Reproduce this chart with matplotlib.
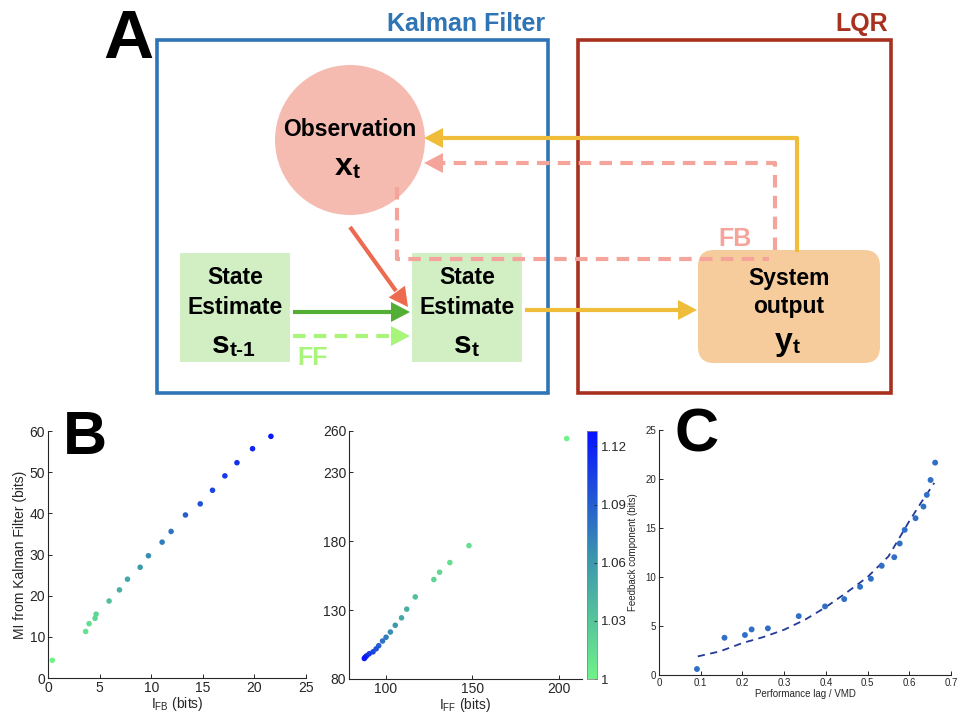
import numpy as np
import matplotlib
matplotlib.use('Agg')
import matplotlib.pyplot as plt
from matplotlib.patches import Rectangle, Circle, FancyBboxPatch, Polygon
from matplotlib.colors import LinearSegmentedColormap, Normalize
from matplotlib.colorbar import ColorbarBase

plt.rcParams['font.family'] = ['Liberation Sans', 'DejaVu Sans']
plt.rcParams['mathtext.fontset'] = 'custom'
plt.rcParams['mathtext.rm'] = 'Liberation Sans'
plt.rcParams['mathtext.it'] = 'Liberation Sans:italic'
plt.rcParams['mathtext.bf'] = 'Liberation Sans:bold'

# ---------------- data ----------------
# Panel B (left): feedback information vs MI from Kalman filter
i_fb = [0.42, 3.65, 3.98, 4.56, 4.66, 5.92, 6.92, 7.70, 8.93, 9.73, 11.06,
        11.93, 13.32, 14.75, 15.94, 17.14, 18.31, 19.82, 21.60]
mi_fb = [4.3, 11.3, 13.2, 14.5, 15.5, 18.7, 21.4, 24.0, 26.9, 29.7, 33.0,
         35.6, 39.6, 42.3, 45.6, 49.1, 52.3, 55.7, 58.7]
# Panel B (middle): feedforward information
i_ff = [204.2, 148.0, 137.0, 131.1, 127.8, 117.1, 112.2, 109.2, 105.6, 102.8,
        100.3, 98.3, 96.1, 94.6, 92.8, 90.6, 89.1, 88.3, 87.8]
mi_ff = [254.5, 176.8, 164.5, 157.5, 152.2, 139.6, 130.7, 124.4, 119.0, 114.1,
         110.3, 107.6, 104.2, 101.9, 99.7, 98.3, 96.8, 95.8, 94.9]
# colour value (colorbar) for each condition
fb_ratio = [1.000, 1.012, 1.014, 1.018, 1.020, 1.035, 1.044, 1.050, 1.060,
            1.066, 1.075, 1.080, 1.090, 1.096, 1.102, 1.107, 1.112, 1.118, 1.125]
cbar_ticks = [1, 1.03, 1.06, 1.09, 1.12]
cbar_ticklabels = ['1', '1.03', '1.06', '1.09', '1.12']
# Panel C
perf_lag = [0.091, 0.157, 0.206, 0.222, 0.261, 0.335, 0.398, 0.444, 0.482,
            0.508, 0.534, 0.564, 0.577, 0.589, 0.615, 0.634, 0.642, 0.651, 0.662]
fb_comp = [0.61, 3.80, 4.08, 4.65, 4.76, 6.01, 7.00, 7.74, 9.00, 9.82, 11.14,
           12.02, 13.42, 14.81, 16.0, 17.19, 18.38, 19.9, 21.67]
fit_x = [0.093, 0.146, 0.2, 0.25, 0.3, 0.35, 0.4, 0.45, 0.5, 0.55, 0.6, 0.63, 0.66]
fit_y = [1.90, 2.41, 3.26, 3.87, 4.62, 5.64, 6.93, 8.42, 10.0, 12.1, 15.7, 17.7, 19.6]

# ---------------- figure ----------------
W, H = 961, 717
fig = plt.figure(figsize=(W / 100, H / 100), dpi=100)

# Diagram (panel A) in pixel coordinates
ax0 = fig.add_axes([0, 0, 1, 1], zorder=-1)
ax0.set_xlim(0, W)
ax0.set_ylim(H, 0)
ax0.axis('off')

blue = '#2f74b5'
dred = '#a8301e'
yellow = '#f0bd3a'
pink = '#f4a49a'
green = '#52ae35'
lgreen = '#a8f57a'
salmon = '#ec6a50'
NODE_FS = 16.5


def head(x, y, dx, dy, color, L=19, Wd=20, z=5):
    n = np.hypot(dx, dy)
    ux, uy = dx / n, dy / n
    px, py = -uy, ux
    bx, by = x - ux * L, y - uy * L
    pts = [(x, y), (bx + px * Wd / 2, by + py * Wd / 2), (bx - px * Wd / 2, by - py * Wd / 2)]
    ax0.add_patch(Polygon(pts, closed=True, fc=color, ec='none', zorder=z))


def subtext(x, y, main, sub, size=23, subsize=15):
    ax0.text(x, y, main, ha='right', va='baseline', fontsize=size, fontweight='bold', zorder=6)
    ax0.text(x, y + 3, sub, ha='left', va='baseline', fontsize=subsize, fontweight='bold', zorder=6)


# boxes
ax0.add_patch(Rectangle((157, 40), 391, 353, fill=False, ec=blue, lw=2.6, zorder=2))
ax0.add_patch(Rectangle((578, 40), 313, 353, fill=False, ec=dred, lw=2.6, zorder=2))
ax0.text(545, 24, 'Kalman Filter', ha='right', va='center', fontsize=18,
         fontweight='bold', color=blue)
ax0.text(888, 24, 'LQR', ha='right', va='center', fontsize=18,
         fontweight='bold', color=dred)
fig.text(128 / W, 1 - 40 / H, 'A', ha='center', va='center', fontsize=50, fontweight='bold')

# nodes
ax0.add_patch(Circle((350, 140), 75, fc='#f5bbb0', ec='none', zorder=1))
ax0.add_patch(Rectangle((180, 253), 110, 109, fc='#d2efc4', ec='none', zorder=1))
ax0.add_patch(Rectangle((412, 253), 110, 109, fc='#d2efc4', ec='none', zorder=1))
ax0.add_patch(FancyBboxPatch((698, 250), 182, 113,
                             boxstyle='round,pad=0,rounding_size=16',
                             fc='#f7cc9c', ec='none', zorder=1))

ax0.text(350, 129, 'Observation', ha='center', va='center', fontsize=NODE_FS, fontweight='bold', zorder=6)
subtext(353, 175, 'x', 't')
for cx in [235, 467]:
    ax0.text(cx, 278, 'State', ha='center', va='center', fontsize=NODE_FS, fontweight='bold', zorder=6)
    ax0.text(cx, 307, 'Estimate', ha='center', va='center', fontsize=NODE_FS, fontweight='bold', zorder=6)
subtext(230, 353, 's', 't-1')
subtext(472, 353, 's', 't')
ax0.text(789, 279, 'System', ha='center', va='center', fontsize=NODE_FS, fontweight='bold', zorder=6)
ax0.text(789, 307, 'output', ha='center', va='center', fontsize=NODE_FS, fontweight='bold', zorder=6)
subtext(793, 350, 'y', 't')

# arrows
lw = 3.0
# observation -> state estimate
ax0.plot([350, 396], [227, 291], color=salmon, lw=lw, solid_capstyle='butt', zorder=4)
head(408, 307, 58, 80, salmon)
# state t-1 -> state t (solid)
ax0.plot([293, 392], [312, 312], color=green, lw=lw, solid_capstyle='butt', zorder=4)
head(410, 312, 1, 0, green)
# FF dashed
ax0.plot([293, 392], [336, 336], color=lgreen, lw=lw, dashes=(3, 2), zorder=4)
head(410, 336, 1, 0, lgreen)
ax0.text(313, 358, 'FF', ha='center', va='center', fontsize=18, fontweight='bold', color=lgreen)
# state t -> system output
ax0.plot([525, 680], [310, 310], color=yellow, lw=lw, solid_capstyle='butt', zorder=4)
head(697, 310, 1, 0, yellow)
# system output -> observation (yellow solid)
ax0.plot([797, 797, 442], [250, 138, 138], color=yellow, lw=lw, zorder=4)
head(424, 138, -1, 0, yellow)
# FB dashed
ax0.plot([775, 775, 442], [250, 163, 163], color=pink, lw=lw, dashes=(3, 2), zorder=4)
head(424, 163, -1, 0, pink)
ax0.plot([397, 397, 769], [187, 259, 259], color=pink, lw=lw, dashes=(3, 2), zorder=4)
ax0.text(735, 239, 'FB', ha='center', va='center', fontsize=18, fontweight='bold', color=pink)

# ---------------- panels B ----------------
cmap = LinearSegmentedColormap.from_list('fbmap', ['#6ff28a', '#3a93ae', '#0612ff'])
norm = Normalize(vmin=1.0, vmax=1.128)
axcol = '#262626'


def style(ax, fs):
    for s in ['top', 'right']:
        ax.spines[s].set_visible(False)
    for s in ['left', 'bottom']:
        ax.spines[s].set_color(axcol)
        ax.spines[s].set_linewidth(0.8)
    ax.tick_params(direction='in', length=3, width=0.7, colors=axcol, labelsize=fs, pad=2)


def frac(l, t, r, b):
    return [l / W, 1 - b / H, (r - l) / W, (b - t) / H]


axB1 = fig.add_axes(frac(48, 431, 306, 678))
axB1.scatter(i_fb, mi_fb, c=fb_ratio, cmap=cmap, norm=norm, s=16, edgecolors='none')
axB1.set_xlim(0, 25)
axB1.set_ylim(0, 60)
axB1.set_xticks([0, 5, 10, 15, 20, 25])
axB1.set_yticks([0, 10, 20, 30, 40, 50, 60])
style(axB1, 10)
axB1.set_xlabel(r'I$_{\mathrm{FB}}$ (bits)', fontsize=10, color=axcol, labelpad=0)
axB1.set_ylabel('MI from Kalman Filter (bits)', fontsize=10, color=axcol, labelpad=2)
fig.text(85 / W, 1 - 438 / H, 'B', ha='center', va='center', fontsize=44, fontweight='bold')

axB2 = fig.add_axes(frac(349, 431, 582, 679))
axB2.scatter(i_ff, mi_ff, c=fb_ratio, cmap=cmap, norm=norm, s=16, edgecolors='none')
axB2.set_xlim(79, 213)
axB2.set_ylim(80, 260)
axB2.set_xticks([100, 150, 200])
axB2.set_yticks([80, 130, 180, 230, 260])
style(axB2, 10)
axB2.set_xlabel(r'I$_{\mathrm{FF}}$ (bits)', fontsize=10, color=axcol, labelpad=0)

axCB = fig.add_axes(frac(587, 431, 597, 679))
cb = ColorbarBase(axCB, cmap=cmap, norm=norm, orientation='vertical')
cb.set_ticks(cbar_ticks)
cb.set_ticklabels(cbar_ticklabels)
cb.outline.set_linewidth(0.6)
cb.outline.set_edgecolor('#888888')
axCB.tick_params(labelsize=9.5, colors=axcol, direction='in', length=2, width=0.6, pad=3)

# ---------------- panel C ----------------
axC = fig.add_axes(frac(659, 430, 951, 675))
axC.scatter(perf_lag, fb_comp, color='#2f6fc6', s=18, edgecolors='none', zorder=3)
axC.plot(fit_x, fit_y, color='#233a96', lw=1.3, dashes=(4, 3), zorder=2)
axC.set_xlim(0, 0.7)
axC.set_ylim(0, 25)
axC.set_xticks([0, 0.1, 0.2, 0.3, 0.4, 0.5, 0.6, 0.7])
axC.set_xticklabels(['0', '0.1', '0.2', '0.3', '0.4', '0.5', '0.6', '0.7'])
axC.set_yticks([0, 5, 10, 15, 20, 25])
style(axC, 7)
axC.set_xlabel('Performance lag / VMD', fontsize=7, color=axcol, labelpad=1)
axC.set_ylabel('Feedback component (bits)', fontsize=7, color=axcol)
axC.yaxis.set_label_coords((638 - 659) / (951 - 659), 0.5)
fig.text(697 / W, 1 - 436 / H, 'C', ha='center', va='center', fontsize=44, fontweight='bold')

fig.savefig('out.png', dpi=100, facecolor='white')
